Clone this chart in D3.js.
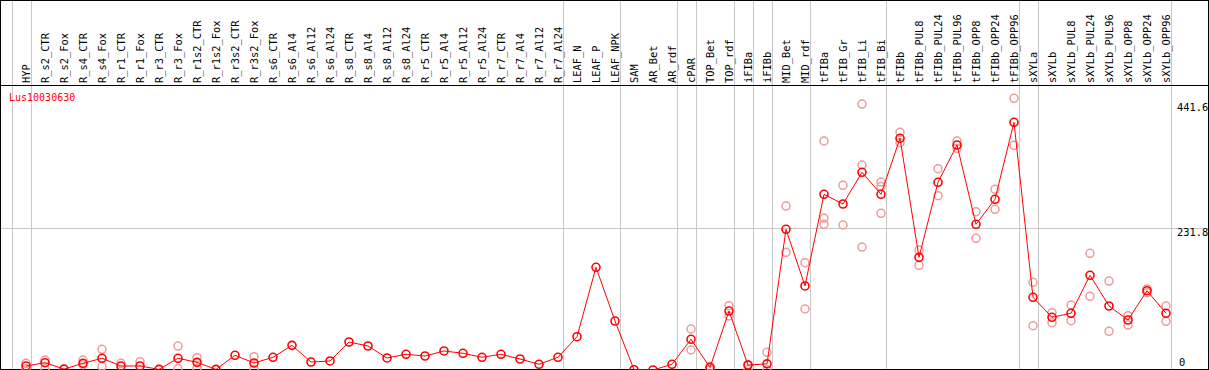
<!DOCTYPE html>
<html><head><meta charset="utf-8">
<script src="https://cdn.jsdelivr.net/npm/d3@7"></script>
<style>body{margin:0;background:#fff}svg{display:block}</style>
</head><body>
<script>
const categories = ["HYP","R_s2_CTR","R_s2_Fox","R_s4_CTR","R_s4_Fox","R_r1_CTR","R_r1_Fox","R_r3_CTR","R_r3_Fox","R_r1s2_CTR","R_r1s2_Fox","R_r3s2_CTR","R_r3s2_Fox","R_s6_CTR","R_s6_Al4","R_s6_Al12","R_s6_Al24","R_s8_CTR","R_s8_Al4","R_s8_Al12","R_s8_Al24","R_r5_CTR","R_r5_Al4","R_r5_Al12","R_r5_Al24","R_r7_CTR","R_r7_Al4","R_r7_Al12","R_r7_Al24","LEAF_N","LEAF_P","LEAF_NPK","SAM","AR_Bet","AR_rdf","cPAR","TOP_Bet","TOP_rdf","iFIBa","iFIBb","MID_Bet","MID_rdf","tFIBa","tFIB_Gr","tFIB_Li","tFIB_Bi","tFIBb","tFIBb_PUL8","tFIBb_PUL24","tFIBb_PUL96","tFIBb_OPP8","tFIBb_OPP24","tFIBb_OPP96","sXYLa","sXYLb","sXYLb_PUL8","sXYLb_PUL24","sXYLb_PUL96","sXYLb_OPP8","sXYLb_OPP24","sXYLb_OPP96"];
const means = [6.5,11.9,1.5,10.9,19.1,6.5,6.5,1.0,19.1,12.5,1.0,24,11.4,20.7,40.2,13,14.7,45.6,39.1,19.6,25.6,22.8,31,27.2,20.7,25.6,17.9,9.3,20.7,54.3,167.4,79.8,0.5,0,9.3,50,4,96.1,8,10,229.3,137,286.3,270.5,322.2,286.3,377.6,183.6,305.9,366.6,237.4,278.2,403.6,118.5,85.9,92.4,154.3,104.3,81.5,129.2,92.4];
const replicates = [[10.9,2],[16.3,2],[],[16.3,8.6],[33.7,6],[10.9],[13.5],[],[39,2],[20,3],[],[],[21.7,1],[],[],[],[],[],[],[],[],[],[],[],[],[],[],[],[],[],[],[],[],[],[],[66.8,32.6],[6,1],[104.8,88],[9,1],[28.8,0.5],[267.2,191.8],[174.8,99.4],[373.2,247.2,237.4],[301,236.3],[433.4,334,200.4],[306.3,299,255.3],[387.3,370.4],[195.5,170.6],[328,284],[373,361],[258,214.6],[294.5,261.9],[442.7,366.2],[142.9,72.2],[93.4,77.1],[105.9,80.3],[190.2,120],[145,63],[88.5,73.3],[132,126],[104.3,79.4]];
const groupFirsts = ["HYP","R_s2_CTR","LEAF_N","SAM","cPAR","TOP_Bet","iFIBa","iFIBb","MID_Bet","tFIBa","tFIBb","sXYLa","sXYLb"];
const yTicks = [0, 231.8, 441.6];
const gridValues = [231.8];
const title = "Lus10030630";

const W = 1209, H = 370;
const svg = d3.select("body").append("svg").attr("width", W).attr("height", H);
const x = d3.scalePoint().domain(categories).range([26, 1166]);
const y = d3.scaleLinear().domain([0, 441.6]).range([370, 99]);
const font = "'DejaVu Sans Mono', 'Liberation Mono', monospace";

// gray grid
const gridG = svg.append("g").attr("stroke", "#c8c8c8").attr("stroke-width", 1);
groupFirsts.forEach(c => {
  const gx = Math.round(x(c) - x.step() / 2 - 5) + 0.5;
  gridG.append("line").attr("x1", gx).attr("x2", gx).attr("y1", 0).attr("y2", 369);
});
{
  const gx = Math.round(x(categories[categories.length - 1]) + x.step() / 2 - 5) + 0.5;
  gridG.append("line").attr("x1", gx).attr("x2", gx).attr("y1", 0).attr("y2", 369);
}
gridValues.forEach(v => {
  const gy = Math.round(y(v)) + 0.5;
  gridG.append("line").attr("x1", 0).attr("x2", W).attr("y1", gy).attr("y2", gy);
});

// frame
const fr = svg.append("g").attr("stroke", "#000").attr("stroke-width", 1).attr("fill", "none");
fr.append("line").attr("x1", 0).attr("x2", W).attr("y1", 0.5).attr("y2", 0.5);
fr.append("line").attr("x1", 0).attr("x2", W).attr("y1", 85.5).attr("y2", 85.5);
fr.append("line").attr("x1", 0).attr("x2", W).attr("y1", 369.5).attr("y2", 369.5);
fr.append("line").attr("x1", 0.5).attr("x2", 0.5).attr("y1", 0).attr("y2", H);
fr.append("line").attr("x1", 1208.5).attr("x2", 1208.5).attr("y1", 0).attr("y2", H);

// category labels
svg.append("g").selectAll("text").data(categories).join("text")
  .attr("transform", d => `translate(${x(d) + 4},83) rotate(-90)`)
  .attr("font-family", font).attr("font-size", "10.4px").attr("fill", "#000")
  .text(d => d);

// title
svg.append("text").attr("x", 9).attr("y", 101).attr("font-family", font)
  .attr("font-size", "10px").attr("fill", "#ff0000").text(title);

// y labels
svg.append("g").selectAll("text").data(yTicks).join("text")
  .attr("x", d => d === 0 ? 1179 : 1177)
  .attr("y", d => d === 0 ? y(d) - 4 : (d === d3.max(yTicks) ? y(d) + 12 : y(d) + 8))
  .attr("font-family", font).attr("font-size", "10.4px").attr("fill", "#000")
  .text(d => d);

const plot = svg.append("g");
// replicates
const repPts = [];
replicates.forEach((arr, i) => arr.forEach(v => repPts.push([categories[i], v])));
plot.append("g").selectAll("circle").data(repPts).join("circle")
  .attr("cx", d => x(d[0])).attr("cy", d => y(d[1])).attr("r", 4)
  .attr("fill", "none").attr("stroke", "#f09a9a").attr("stroke-width", 1.5);

// line
plot.append("path").datum(means)
  .attr("d", d3.line().x((d, i) => x(categories[i])).y(d => y(d)))
  .attr("fill", "none").attr("stroke", "#ff0000").attr("stroke-width", 1);

// means
plot.append("g").selectAll("circle").data(means).join("circle")
  .attr("cx", (d, i) => x(categories[i])).attr("cy", d => y(d)).attr("r", 4)
  .attr("fill", "none").attr("stroke", "#ff0000").attr("stroke-width", 1.6);
</script>
</body></html>
